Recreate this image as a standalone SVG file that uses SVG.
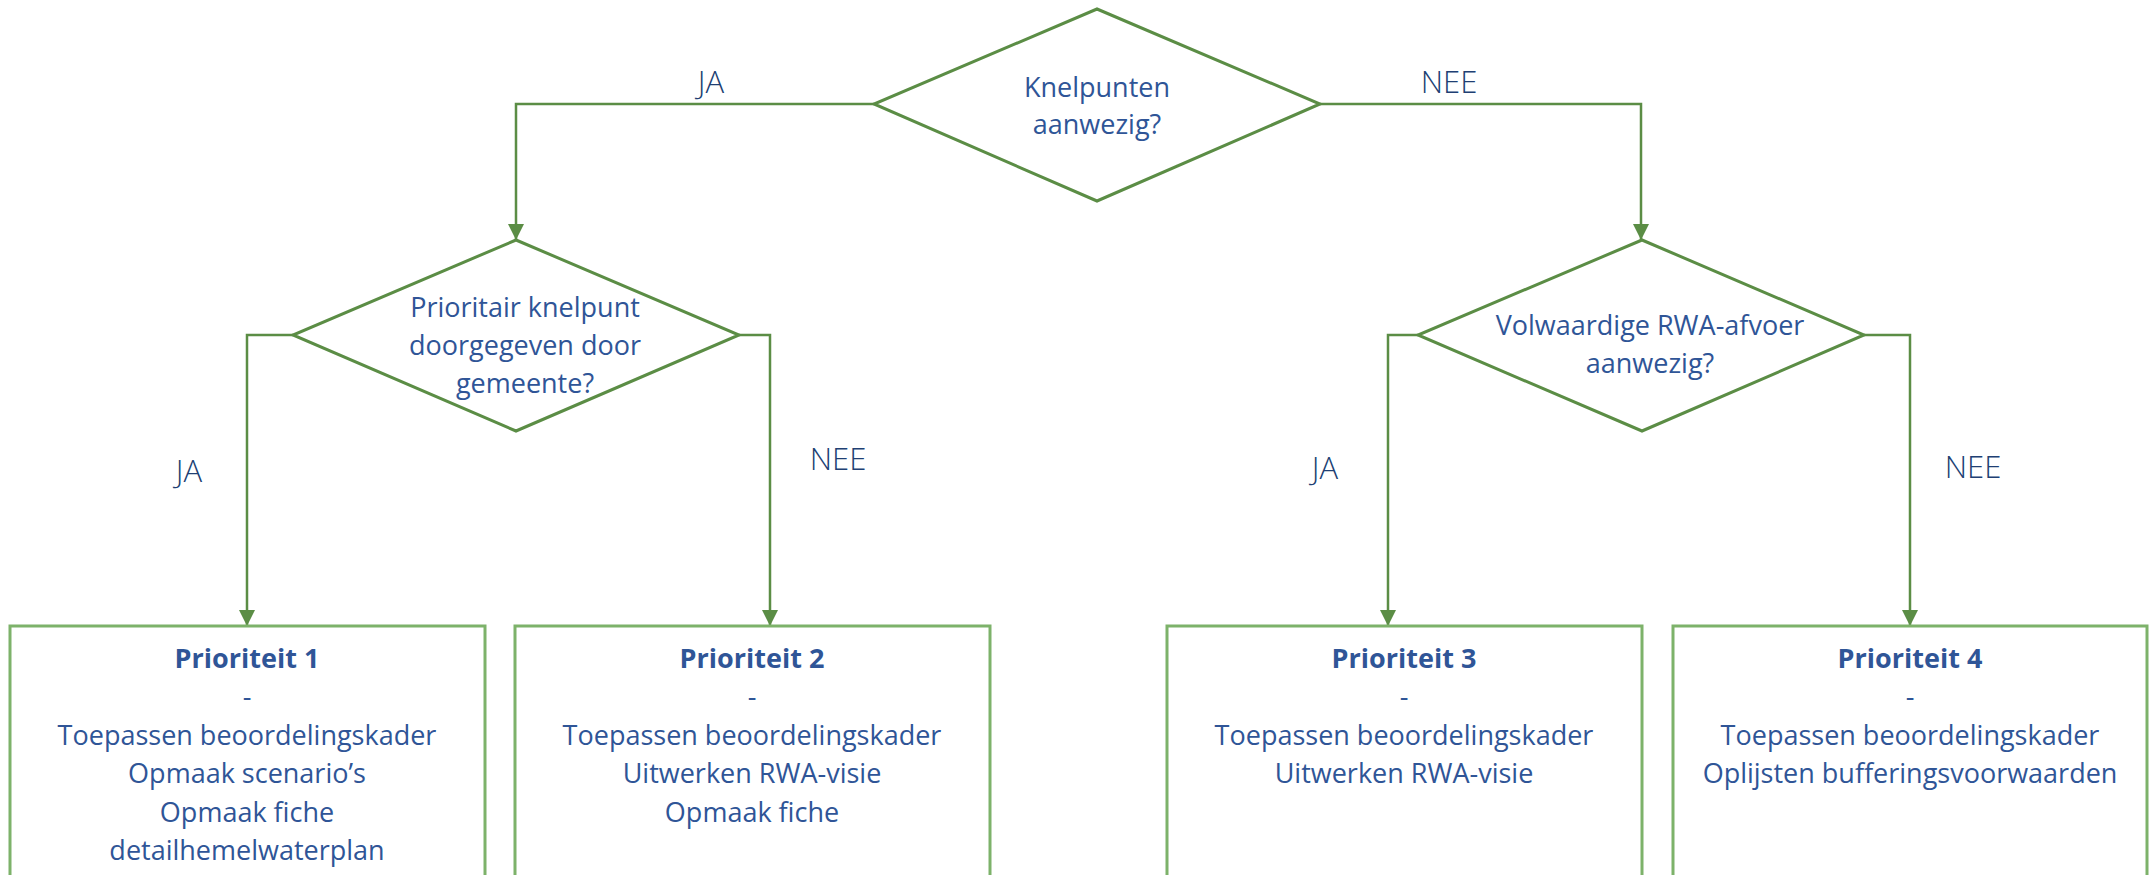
<svg xmlns="http://www.w3.org/2000/svg" width="2152" height="875" viewBox="0 0 2152 875">
  <defs>
    <style>
      .dia { fill: #ffffff; stroke: #5B8D45; stroke-width: 3; }
      .box { fill: #ffffff; stroke: #7DB26A; stroke-width: 3; }
      .con { fill: none; stroke: #5B8D45; stroke-width: 2.5; }
      .t { font-family: "Open Sans", "Liberation Sans", sans-serif; font-size: 27px; fill: #2F5597; text-anchor: middle; }
      .b { font-weight: bold; }
      .lbl { font-family: "Open Sans", "Liberation Sans", sans-serif; font-size: 31px; font-weight: 300; fill: #203F73; text-anchor: middle; }
    </style>
    <marker id="arr" markerWidth="16" markerHeight="16" refX="16" refY="8" orient="auto" markerUnits="userSpaceOnUse">
      <path d="M0,0 L16,8 L0,16 Z" fill="#5B8D45"/>
    </marker>
  </defs>
  <rect width="2152" height="875" fill="#ffffff"/>

  <g id="connectors">
    <path class="con" d="M874,104 H516 V240" marker-end="url(#arr)"/>
    <path class="con" d="M1320,104 H1641 V240" marker-end="url(#arr)"/>
    <path class="con" d="M293,335 H247 V626" marker-end="url(#arr)"/>
    <path class="con" d="M739,335 H770 V626" marker-end="url(#arr)"/>
    <path class="con" d="M1418,335 H1388 V626" marker-end="url(#arr)"/>
    <path class="con" d="M1864,335 H1910 V626" marker-end="url(#arr)"/>
    <text class="lbl" x="711" y="93">JA</text>
    <text class="lbl" x="1449" y="93">NEE</text>
    <text class="lbl" x="189" y="482">JA</text>
    <text class="lbl" x="838" y="470">NEE</text>
    <text class="lbl" x="1325" y="479">JA</text>
    <text class="lbl" x="1973" y="478">NEE</text>
  </g>

  <g id="d1">
    <polygon class="dia" points="1097,9 1320,104 1097,201 874,104"/>
    <text class="t" x="1097" y="97">Knelpunten</text>
    <text class="t" x="1097" y="134">aanwezig?</text>
  </g>

  <g id="d2">
    <polygon class="dia" points="516,240 739,335 516,431 293,335"/>
    <text class="t" x="525" y="317">Prioritair knelpunt</text>
    <text class="t" x="525" y="355">doorgegeven door</text>
    <text class="t" x="525" y="393">gemeente?</text>
  </g>

  <g id="d3">
    <polygon class="dia" points="1642,240 1864,335 1642,431 1418,335"/>
    <text class="t" x="1650" y="335">Volwaardige RWA-afvoer</text>
    <text class="t" x="1650" y="373">aanwezig?</text>
  </g>

  <g id="p1">
    <rect class="box" x="10" y="626" width="475" height="270"/>
    <text class="t b" x="247" y="668">Prioriteit 1</text>
    <text class="t" x="247" y="706">-</text>
    <text class="t" x="247" y="745">Toepassen beoordelingskader</text>
    <text class="t" x="247" y="783">Opmaak scenario’s</text>
    <text class="t" x="247" y="822">Opmaak fiche</text>
    <text class="t" x="247" y="860">detailhemelwaterplan</text>
  </g>

  <g id="p2">
    <rect class="box" x="515" y="626" width="475" height="270"/>
    <text class="t b" x="752" y="668">Prioriteit 2</text>
    <text class="t" x="752" y="706">-</text>
    <text class="t" x="752" y="745">Toepassen beoordelingskader</text>
    <text class="t" x="752" y="783">Uitwerken RWA-visie</text>
    <text class="t" x="752" y="822">Opmaak fiche</text>
  </g>

  <g id="p3">
    <rect class="box" x="1167" y="626" width="475" height="270"/>
    <text class="t b" x="1404" y="668">Prioriteit 3</text>
    <text class="t" x="1404" y="706">-</text>
    <text class="t" x="1404" y="745">Toepassen beoordelingskader</text>
    <text class="t" x="1404" y="783">Uitwerken RWA-visie</text>
  </g>

  <g id="p4">
    <rect class="box" x="1673" y="626" width="474" height="270"/>
    <text class="t b" x="1910" y="668">Prioriteit 4</text>
    <text class="t" x="1910" y="706">-</text>
    <text class="t" x="1910" y="745">Toepassen beoordelingskader</text>
    <text class="t" x="1910" y="783">Oplijsten bufferingsvoorwaarden</text>
  </g>
</svg>
